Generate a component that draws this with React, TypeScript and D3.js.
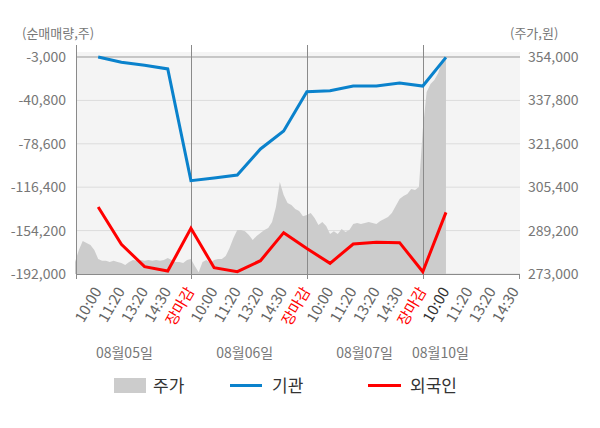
import React, { useEffect, useRef } from 'react'
import * as d3 from 'd3'

// x축 시간 라벨, 날짜 라벨
const timeLabels = ['10:00', '11:20', '13:20', '14:30', '장마감', '10:00', '11:20', '13:20', '14:30', '장마감', '10:00', '11:20', '13:20', '14:30', '장마감', '10:00', '11:20', '13:20', '14:30']
const dateLabels = ['08월05일', '08월06일', '08월07일', '08월10일']

// 순매매량 (주) - 기관 / 외국인
const institution = [-3000, -7600, -10200, -13400, -110700, -108400, -105800, -83100, -67500, -33200, -32400, -28300, -28300, -25600, -28300, -3300]
const foreign = [-133600, -166100, -185600, -189400, -152200, -186500, -190000, -180400, -156000, -169800, -182700, -165900, -164400, -164700, -190000, -138300]

// 주가 (원) - 라벨 한 칸을 6등분한 간격으로 읽은 값
const price = [
    277500, 282000, 285300, 284600, 283800, 282000, 278600, 277900, 277900, 277500,
    277900, 277500, 277100, 276400, 277500, 278200, 277900, 278200, 277900, 278200,
    277900, 278200, 277900, 278200, 279000, 278200, 277500, 277500, 277100, 278200,
    278600, 276000, 273700, 277500, 278200, 277100, 278200, 278600, 278600, 279700,
    282700, 286400, 289400, 289400, 289000, 287600, 285700, 287200, 288300, 289400,
    290200, 292400, 298000, 307300, 302500, 299500, 298800, 297300, 296500, 294600,
    295000, 295800, 293900, 291300, 292400, 290900, 287900, 289000, 287900, 289800,
    288700, 289400, 291700, 292000, 291700, 292000, 292400, 292000, 291700, 292800,
    293500, 294300, 295800, 298400, 301000, 302100, 302900, 304700, 304400, 305500,
    326800, 340900, 343900, 345400, 348000, 352900, 354000
]

const leftTicks = [-3000, -40800, -78600, -116400, -154200, -192000]
const rightTicks = [354000, 337800, 321600, 305400, 289200, 273000]

const FONT = "'Noto Sans CJK KR', 'Noto Sans', sans-serif"

const App = () => {
    const ref = useRef<SVGSVGElement>(null)

    const drawChart = () => {
        const svg = d3.select(ref.current)
        svg.selectAll('*').remove()

        const left = 76, right = 519, top = 57, bottom = 274
        const x = d3.scaleLinear().domain([0, 19.15]).range([75, right])
        const yL = d3.scaleLinear().domain([-192000, -3000]).range([bottom, top])
        const yR = d3.scaleLinear().domain([273000, 354000]).range([bottom, top])
        const fmt = d3.formatLocale({ decimal: '.', thousands: ',', grouping: [3], currency: ['', ''], minus: '-' }).format(',')

        // 배경
        svg.append('rect').attr('x', left).attr('y', 52).attr('width', right - left + 1).attr('height', bottom - 52).attr('fill', '#f4f4f4')

        // 가로 그리드
        svg.selectAll('line.grid').data(leftTicks).enter().append('line')
            .attr('x1', left).attr('x2', right + 1)
            .attr('y1', d => yL(d)).attr('y2', d => yL(d))
            .attr('stroke', (d, i) => i === 0 ? '#999' : '#dcdcdc')
            .attr('stroke-width', 1)

        // 주가 영역
        const area = d3.area<number>()
            .x((d, i) => x(i / 6))
            .y0(bottom)
            .y1(d => yR(d))
        svg.append('path').datum(price).attr('d', area).attr('fill', '#cccccc')

        // 날짜 구분선
        svg.selectAll('line.day').data([5, 10, 15]).enter().append('line')
            .attr('x1', d => Math.round(x(d)) + 0.5).attr('x2', d => Math.round(x(d)) + 0.5)
            .attr('y1', 45).attr('y2', bottom + 5)
            .attr('stroke', '#8a8a8a')

        // 축선
        svg.append('line').attr('x1', left + 0.5).attr('x2', left + 0.5).attr('y1', 45).attr('y2', bottom + 5).attr('stroke', '#8a8a8a')
        svg.append('line').attr('x1', left).attr('x2', right + 1).attr('y1', bottom + 0.5).attr('y2', bottom + 0.5).attr('stroke', '#8a8a8a')
        svg.append('line').attr('x1', right + 0.5).attr('x2', right + 0.5).attr('y1', bottom).attr('y2', bottom + 5).attr('stroke', '#8a8a8a')

        // 기관 / 외국인
        const line = d3.line<number>()
            .x((d, i) => x(i + 1))
            .y(d => yL(d))
        svg.append('path').datum(institution).attr('d', line)
            .attr('fill', 'none').attr('stroke', '#0a82cc').attr('stroke-width', 3)
        svg.append('path').datum(foreign).attr('d', line)
            .attr('fill', 'none').attr('stroke', '#ff0000').attr('stroke-width', 3)

        // 왼쪽 / 오른쪽 눈금
        svg.selectAll('text.yl').data(leftTicks).enter().append('text')
            .attr('x', 66).attr('y', d => yL(d)).attr('dy', '0.35em')
            .attr('text-anchor', 'end').attr('font-size', 14).attr('fill', '#777')
            .attr('font-family', FONT)
            .text(d => fmt(d))
        svg.selectAll('text.yr').data(rightTicks).enter().append('text')
            .attr('x', 528).attr('y', d => yR(d)).attr('dy', '0.35em')
            .attr('text-anchor', 'start').attr('font-size', 14).attr('fill', '#777')
            .attr('font-family', FONT)
            .text(d => fmt(d))

        svg.append('text').attr('x', 22).attr('y', 38).attr('font-size', 13).attr('fill', '#777')
            .attr('font-family', FONT).text('(순매매량,주)')
        svg.append('text').attr('x', 510).attr('y', 38).attr('font-size', 13).attr('fill', '#777')
            .attr('font-family', FONT).text('(주가,원)')

        // x축 라벨
        svg.selectAll('text.xl').data(timeLabels).enter().append('text')
            .attr('transform', (d, i) => `translate(${x(i + 1) + 4},${bottom + 17}) rotate(-60)`)
            .attr('text-anchor', 'end').attr('font-size', 15)
            .attr('font-family', FONT)
            .attr('fill', (d, i) => d === '장마감' ? '#ff0000' : (i === 15 ? '#333' : '#666'))
            .text(d => d)

        const dateAt = [2.13, 7.32, 12.49, 15.76]
        svg.selectAll('text.date').data(dateLabels).enter().append('text')
            .attr('x', (d, i) => x(dateAt[i])).attr('y', 358)
            .attr('text-anchor', 'middle').attr('font-size', 14).attr('fill', '#777')
            .attr('font-family', FONT)
            .text(d => d)

        // 범례
        const lg = svg.append('g').attr('font-family', FONT).attr('font-size', 17).attr('fill', '#333')
        lg.append('rect').attr('x', 114).attr('y', 378).attr('width', 32).attr('height', 15).attr('fill', '#cccccc')
        lg.append('text').attr('x', 153).attr('y', 392).text('주가')
        lg.append('line').attr('x1', 230).attr('x2', 262).attr('y1', 385.5).attr('y2', 385.5).attr('stroke', '#0a82cc').attr('stroke-width', 3)
        lg.append('text').attr('x', 272).attr('y', 392).text('기관')
        lg.append('line').attr('x1', 368).attr('x2', 401).attr('y1', 385.5).attr('y2', 385.5).attr('stroke', '#ff0000').attr('stroke-width', 3)
        lg.append('text').attr('x', 410).attr('y', 392).text('외국인')
    }

    useEffect(() => {
        drawChart()
    }, [])

    return (
        <svg ref={ref} width={600} height={428} style={{ position: 'absolute', left: 0, top: 0, background: '#fff' }} />
    )
}

export default App
